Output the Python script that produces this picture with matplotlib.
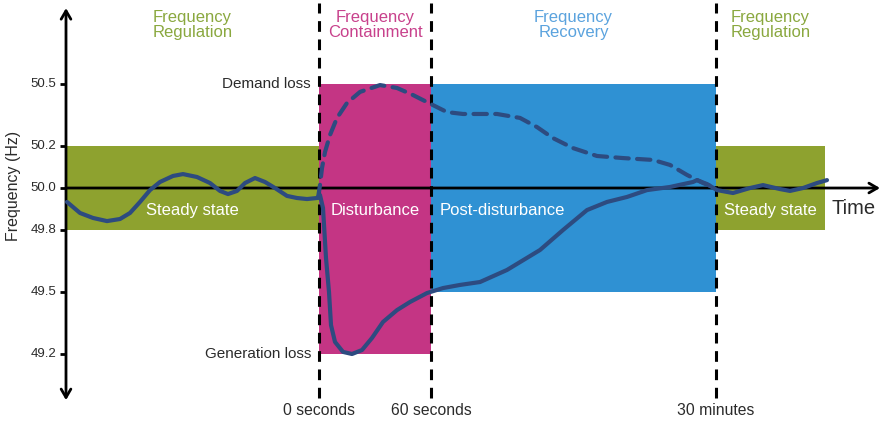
"""Schematic of frequency response phases after a grid disturbance."""

import matplotlib
matplotlib.use("Agg")
import matplotlib.pyplot as plt
from matplotlib.patches import Rectangle

plt.rcParams["font.family"] = ["Liberation Sans", "DejaVu Sans"]

# Horizontal positions on the schematic time axis (arbitrary units)
AXIS_X = 66
AXIS_END = 881
PHASE_EDGES = [319, 431, 716]          # 0 s, 60 s, 30 min
PHASE_LABELS = ["0 seconds", "60 seconds", "30 minutes"]
RIGHT_END = 825

# Frequency bands (Hz)
NOMINAL = 50.0
REG_BAND = (49.8, 50.2)
CONTAIN_BAND = (49.2, 50.5)
RECOVER_BAND = (49.5, 50.5)
Y_TICKS = [49.2, 49.5, 49.8, 50.0, 50.2, 50.5]

# Generation loss trace (solid)
gen_x = [67, 80, 93, 107, 120, 130, 140, 150, 160, 173, 183, 197, 210, 220,
         228, 237, 245, 255, 265, 275, 287, 297, 307, 317, 320, 323, 326, 329,
         331, 335, 343, 352, 362, 372, 383, 397, 410, 427, 443, 460, 480, 507,
         540, 563, 587, 607, 627, 647, 670, 693, 697, 707, 717, 733, 750, 763,
         780, 790, 803, 817, 827]
gen_f = [49.933, 49.880, 49.856, 49.841, 49.851, 49.880, 49.933, 49.990,
         50.029, 50.058, 50.067, 50.053, 50.024, 49.986, 49.971, 49.986,
         50.024, 50.048, 50.029, 50.000, 49.962, 49.952, 49.947, 49.952,
         49.966, 49.904, 49.663, 49.500, 49.341, 49.260, 49.212, 49.202,
         49.221, 49.279, 49.356, 49.413, 49.452, 49.495, 49.519, 49.534,
         49.548, 49.606, 49.702, 49.798, 49.894, 49.933, 49.957, 49.990,
         50.005, 50.029, 50.038, 50.019, 49.990, 49.976, 50.000, 50.014,
         49.995, 49.986, 50.000, 50.024, 50.038]

# Demand loss trace (dashed)
dem_x = [318, 320, 322, 325, 330, 337, 347, 360, 380, 397, 413, 427, 447,
         463, 497, 520, 537, 553, 573, 597, 623, 653, 670, 687, 703, 716]
dem_f = [49.952, 50.014, 50.096, 50.173, 50.255, 50.337, 50.409, 50.462,
         50.495, 50.481, 50.447, 50.413, 50.365, 50.356, 50.356, 50.337,
         50.293, 50.240, 50.192, 50.154, 50.144, 50.135, 50.111, 50.063,
         50.024, 50.000]

GREEN = "#8ea22f"
GREEN_TXT = "#8aa83f"
MAGENTA = "#c43584"
MAGENTA_TXT = "#c8418c"
BLUE = "#2f91d3"
BLUE_TXT = "#5ba3de"
NAVY = "#2d4b80"
DARK = "#2b2b2b"


def main() -> None:
    fig = plt.figure(figsize=(8.81, 4.22), dpi=100)
    ax = fig.add_axes([0, 0, 1, 1])
    ax.set_xlim(0, 881)
    ax.set_ylim(48.875, 50.904)
    ax.axis("off")

    x0, x1, x2 = PHASE_EDGES
    # phase boxes
    ax.add_patch(Rectangle((AXIS_X, REG_BAND[0]), x0 - AXIS_X,
                           REG_BAND[1] - REG_BAND[0], color=GREEN, lw=0, zorder=1))
    ax.add_patch(Rectangle((x0, CONTAIN_BAND[0]), x1 - x0,
                           CONTAIN_BAND[1] - CONTAIN_BAND[0], color=MAGENTA, lw=0, zorder=1))
    ax.add_patch(Rectangle((x1, RECOVER_BAND[0]), x2 - x1,
                           RECOVER_BAND[1] - RECOVER_BAND[0], color=BLUE, lw=0, zorder=1))
    ax.add_patch(Rectangle((x2, REG_BAND[0]), RIGHT_END - x2,
                           REG_BAND[1] - REG_BAND[0], color=GREEN, lw=0, zorder=1))

    # axes arrows
    ax.annotate("", xy=(AXIS_X, 50.865), xytext=(AXIS_X, 48.98),
                arrowprops=dict(arrowstyle="<->,head_length=0.6,head_width=0.35",
                                lw=2, color="black", shrinkA=0, shrinkB=0), zorder=3)
    ax.annotate("", xy=(AXIS_END - 1, NOMINAL), xytext=(AXIS_X, NOMINAL),
                arrowprops=dict(arrowstyle="->,head_length=0.6,head_width=0.35",
                                lw=2, color="black", shrinkA=0, shrinkB=0), zorder=3)

    # y ticks
    for t in Y_TICKS:
        ax.plot([AXIS_X - 6, AXIS_X], [t, t], color="black", lw=2, zorder=3,
                solid_capstyle="butt")
        ax.text(AXIS_X - 10, t, f"{t:.1f}", ha="right", va="center",
                fontsize=9.5, color=DARK)
    ax.text(14, 50.01, "Frequency (Hz)", rotation=90, ha="center", va="center",
            fontsize=11.5, color=DARK)

    # phase boundaries
    for x, lab in zip(PHASE_EDGES, PHASE_LABELS):
        ax.plot([x, x], [48.99, 50.89], color="black", lw=2.2,
                dashes=(3.5, 2.5), zorder=4)
        ax.text(x, 48.928, lab, ha="center", va="center", fontsize=11.3,
                color=DARK)

    # traces
    ax.plot(gen_x, gen_f, color=NAVY, lw=3, solid_capstyle="round",
            solid_joinstyle="round", zorder=5)
    ax.plot(dem_x, dem_f, color=NAVY, lw=3, dashes=(3.2, 2.0),
            dash_capstyle="round", zorder=5)

    # phase headings
    head_y = 50.786
    heads = [((AXIS_X + x0) / 2, "Frequency\nRegulation", GREEN_TXT),
             ((x0 + x1) / 2, "Frequency\nContainment", MAGENTA_TXT),
             ((x1 + x2) / 2, "Frequency\nRecovery", BLUE_TXT),
             ((x2 + RIGHT_END) / 2, "Frequency\nRegulation", GREEN_TXT)]
    for hx, txt, col in heads:
        ax.text(hx, head_y, txt, ha="center", va="center", fontsize=12,
                color=col, linespacing=1.0)

    # in-box labels
    lab_y = 49.894
    ax.text((AXIS_X + x0) / 2, lab_y, "Steady state", ha="center", va="center",
            fontsize=12, color="white", zorder=6)
    ax.text((x0 + x1) / 2, lab_y, "Disturbance", ha="center", va="center",
            fontsize=12, color="white", zorder=6)
    ax.text(x1 + 9, lab_y, "Post-disturbance", ha="left", va="center",
            fontsize=12, color="white", zorder=6)
    ax.text((x2 + RIGHT_END) / 2, lab_y, "Steady state", ha="center",
            va="center", fontsize=12, color="white", zorder=6)
    ax.text(831, 49.90, "Time", ha="left", va="center", fontsize=14.5,
            color=DARK)

    ax.text(x0 - 8, CONTAIN_BAND[1], "Demand loss", ha="right", va="center",
            fontsize=11, color=DARK)
    ax.text(x0 - 8, CONTAIN_BAND[0], "Generation loss", ha="right",
            va="center", fontsize=11, color=DARK)

    fig.savefig("out.png", dpi=100)
    plt.close(fig)


if __name__ == "__main__":
    main()
